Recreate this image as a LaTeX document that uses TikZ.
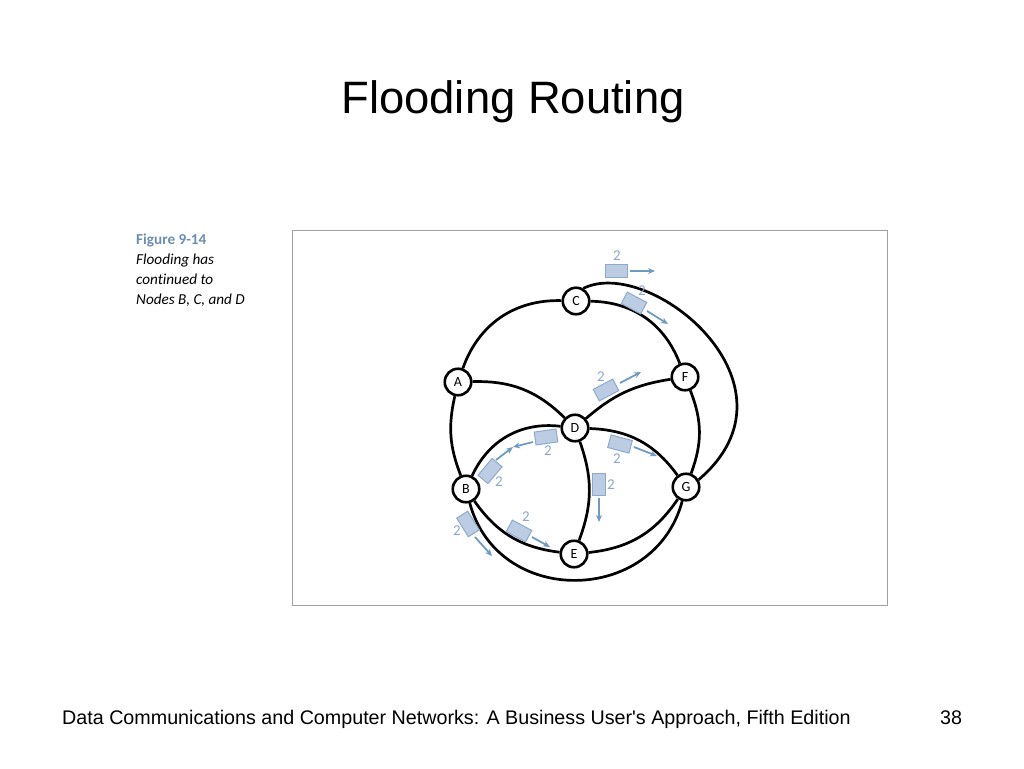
\documentclass[tikz,border=0pt]{standalone}
\usepackage{fontspec}
\setmainfont{Liberation Sans}[Ligatures=TeXOff]
\newfontfamily\figfont{Carlito}[Ligatures={NoCommon,NoRare}]
\usetikzlibrary{arrows.meta}
\definecolor{pktfill}{HTML}{BCCDE3}
\definecolor{pktdraw}{HTML}{8EAACB}
\definecolor{pktarrow}{HTML}{6F9AC4}
\definecolor{pktlabel}{HTML}{8DA7C9}
\definecolor{figblue}{HTML}{6C8DB3}
\definecolor{framegray}{HTML}{A0A0A0}
\tikzset{
 netnode/.style={circle, draw=black, line width=2.6pt, fill=white, minimum size=26.5pt, inner sep=0pt, font=\figfont\fontsize{14}{14}\selectfont},
 link/.style={line width=2.7pt},
 packet/.style={draw=pktdraw, fill=pktfill, line width=1pt, minimum width=22pt, minimum height=13pt, inner sep=0pt},
 pktlab/.style={text=pktlabel, font=\figfont\fontsize{15}{15}\selectfont, inner sep=0pt},
 pktarr/.style={draw=pktarrow, line width=1.8pt, -{Stealth[length=7pt,width=6pt]}},
 captxt/.style={anchor=base west, inner sep=0pt, font=\figfont\fontsize{15.2}{15.2}\selectfont},
}
\begin{document}
\begin{tikzpicture}[x=1pt,y=-1pt]
\useasboundingbox (0,0) rectangle (1024,768);
% title and footer
\node[anchor=base, inner sep=0pt, font=\fontsize{45.4}{45.4}\selectfont] (title) at (513,113) {Flooding Routing};
\node[anchor=base west, inner sep=0pt, font=\fontsize{19.7}{19.7}\selectfont] (footer) at (62,724) {Data Communications and Computer Networks: A Business User's Approach, Fifth Edition};
\node[anchor=base west, inner sep=0pt, font=\fontsize{19.7}{19.7}\selectfont] (pageno) at (940,724) {38};
% caption
\node[captxt, text=figblue, font=\figfont\bfseries\fontsize{15.2}{15.2}\selectfont] (cap1) at (136,244) {Figure 9-14};
\node[captxt, font=\figfont\itshape\fontsize{15.2}{15.2}\selectfont] (cap2) at (136,264) {Flooding has};
\node[captxt, font=\figfont\itshape\fontsize{15.2}{15.2}\selectfont] (cap3) at (136,284) {continued to};
\node[captxt, font=\figfont\itshape\fontsize{15.2}{15.2}\selectfont] (cap4) at (136,304) {Nodes B, C, and D};
% frame
\draw[framegray, line width=1pt] (292,230) rectangle (887,605);
% nodes
\node[netnode] (C) at (576,301) {C};
\node[netnode] (A) at (458,382) {A};
\node[netnode] (F) at (685,377) {F};
\node[netnode] (D) at (575,428) {D};
\node[netnode] (B) at (466,489) {B};
\node[netnode] (G) at (686,487) {G};
\node[netnode] (E) at (574,554) {E};
% links
\draw[link] (A) to[bend left=36] (C);
\draw[link] (C) to[bend left=34] (F);
\draw[link] (F) to[bend left=21] (G);
\draw[link] (A) to[bend right=17] (B);
\draw[link] (A) to[bend left=23] (D);
\draw[link] (D) to[bend left=16] (F);
\draw[link] (D) to[bend right=36] (B);
\draw[link] (D) to[bend left=26] (G);
\draw[link] (D) to[bend left=20] (E);
\draw[link] (B) to[bend right=24] (E);
\draw[link] (E) to[bend right=25] (G);
\draw[link] (B) to[out=-75,in=-105,looseness=1.3] (G);
\draw[link] (C.60) .. controls (650,255) and (810,385) .. (G.30);
% packets
\node[packet] (p1) at (616.5,270.5) {};
\node[pktlab] (l1) at (617,256) {2};
\coordinate (a1s) at (630,271); \coordinate (a1e) at (655,271);
\draw[pktarr] (a1s) -- (a1e);

\node[packet, rotate=-28] (p2) at (634,303) {};
\node[pktlab] (l2) at (642,291) {2};
\coordinate (a2s) at (647,311); \coordinate (a2e) at (668,324);
\draw[pktarr] (a2s) -- (a2e);

\node[packet, rotate=28] (p3) at (606,390) {};
\node[pktlab] (l3) at (601,377) {2};
\coordinate (a3s) at (620,383); \coordinate (a3e) at (641,372);
\draw[pktarr] (a3s) -- (a3e);

\node[packet, rotate=8] (p4) at (546,437) {};
\node[pktlab] (l4) at (548,451) {2};
\coordinate (a4s) at (533,442); \coordinate (a4e) at (513,447);
\draw[pktarr] (a4s) -- (a4e);

\node[packet, rotate=50] (p5) at (490,471) {};
\node[pktlab] (l5) at (499,482) {2};
\coordinate (a5s) at (496,460); \coordinate (a5e) at (513,447);
\draw[pktarr] (a5s) -- (a5e);

\node[packet, rotate=-58] (p6) at (468,524) {};
\node[pktlab] (l6) at (457,531) {2};
\coordinate (a6s) at (475,537); \coordinate (a6e) at (492,556);
\draw[pktarr] (a6s) -- (a6e);

\node[packet, rotate=-28] (p7) at (519,531) {};
\node[pktlab] (l7) at (526,517) {2};
\coordinate (a7s) at (532,537); \coordinate (a7e) at (550,547);
\draw[pktarr] (a7s) -- (a7e);

\node[packet, rotate=-15] (p8) at (620,444) {};
\node[pktlab] (l8) at (617,459) {2};
\coordinate (a8s) at (634,447); \coordinate (a8e) at (657,456);
\draw[pktarr] (a8s) -- (a8e);

\node[packet, rotate=-90] (p9) at (599,484) {};
\node[pktlab] (l9) at (611,485) {2};
\coordinate (a9s) at (599,498); \coordinate (a9e) at (599,522);
\draw[pktarr] (a9s) -- (a9e);
\end{tikzpicture}
\end{document}
